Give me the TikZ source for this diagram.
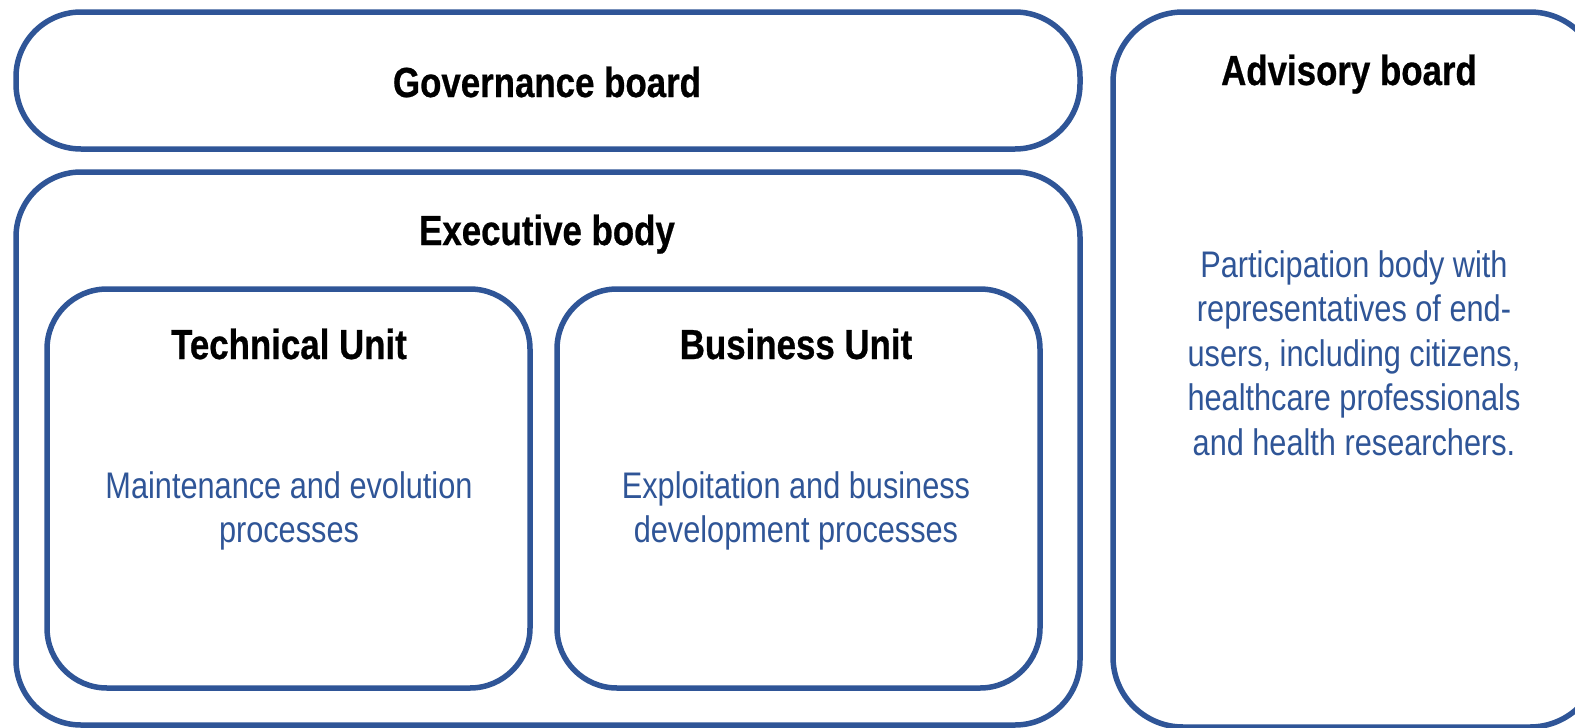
\documentclass[tikz,border=0pt]{standalone}
\usepackage{fontspec}
\setmainfont[FakeStretch=0.83, BoldFeatures={FakeBold=0.6}]{Liberation Sans}
\definecolor{boxblue}{HTML}{2F5597}
\definecolor{txtblue}{HTML}{2F5597}
\begin{document}
\begin{tikzpicture}[x=1pt,y=-1pt,
  box/.style={draw=boxblue, line width=5.5pt, rectangle, inner sep=0pt, outer sep=0pt},
  title/.style={font=\bfseries\fontsize{42}{50}\selectfont, text=black, inner sep=0pt, anchor=base},
  desc/.style={font=\fontsize{37}{44.5}\selectfont, text=txtblue, align=center, inner sep=0pt}]
\useasboundingbox (0,0) rectangle (1575,728);
\clip (0,0) rectangle (1575,728);
\fill[white] (0,0) rectangle (1575,728);
% boxes
\node[box, rounded corners=65pt, minimum width=1064pt, minimum height=137pt] (gov) at (548,80.5) {};
\node[box, rounded corners=65pt, minimum width=1064pt, minimum height=553pt] (exec) at (548,448.5) {};
\node[box, rounded corners=60pt, minimum width=483pt, minimum height=399pt] (tech) at (288.5,488.5) {};
\node[box, rounded corners=60pt, minimum width=483pt, minimum height=399pt] (bus) at (798.5,488.5) {};
\node[box, rounded corners=70pt, minimum width=487pt, minimum height=715pt] (adv) at (1356.5,369.5) {};
% titles
\node[title] (govt) at (547,97) {Governance board};
\node[title] (exect) at (547,245) {Executive body};
\node[title] (techt) at (289,359) {Technical Unit};
\node[title] (bust) at (796,359) {Business Unit};
\node[title] (advt) at (1349,85) {Advisory board};
% descriptions
\node[desc] (techd) at (289,511) {Maintenance and evolution\\processes};
\node[desc] (busd) at (796,511) {Exploitation and business\\development processes};
\node[desc] (advd) at (1354,353) {Participation body with\\representatives of end-\\users, including citizens,\\healthcare professionals\\and health researchers.};
\end{tikzpicture}
\end{document}
